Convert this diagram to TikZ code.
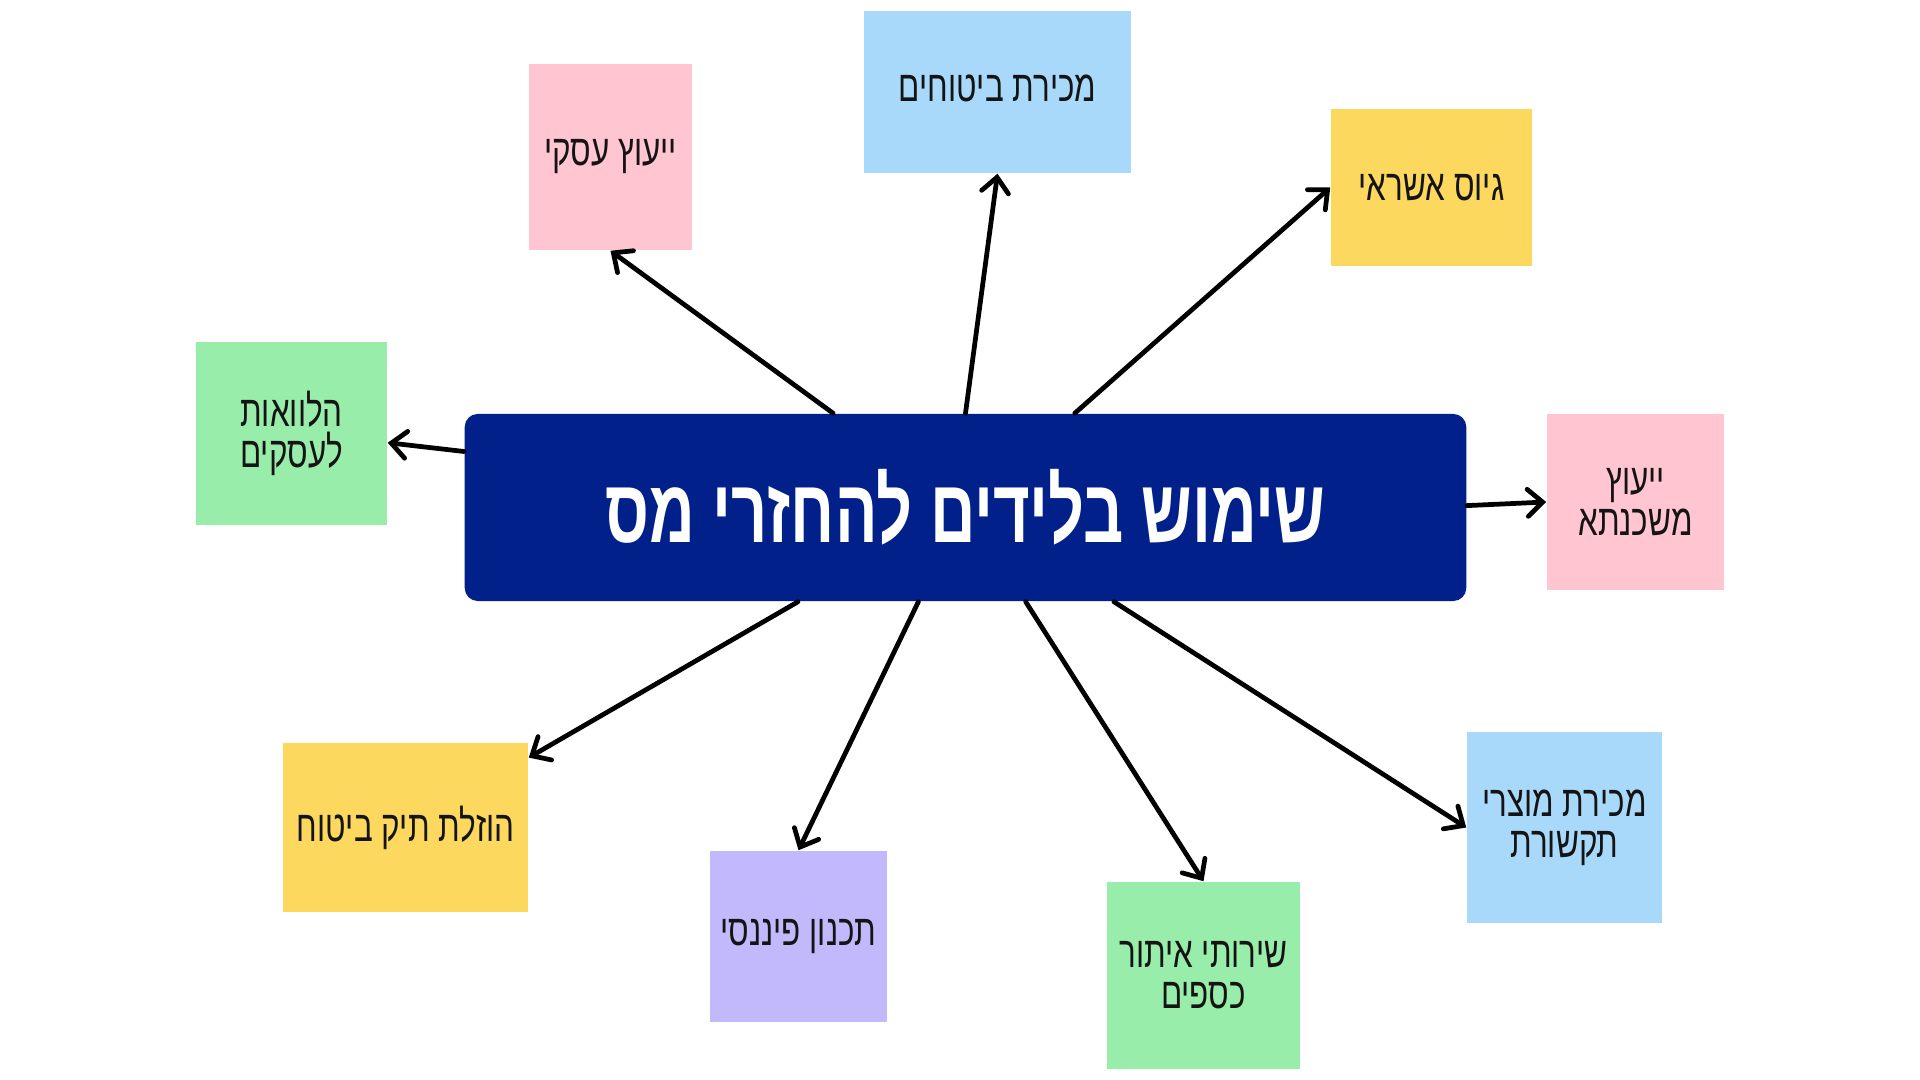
\documentclass[tikz,border=0pt]{standalone}
\usepackage{fontspec}
\usetikzlibrary{arrows.meta,calc}
\TeXXeTstate=1
\newfontfamily\heb[Script=Hebrew,FakeStretch=0.72]{Liberation Sans}
\newfontfamily\hebtitle[Script=Hebrew,FakeStretch=0.70]{Liberation Sans}
\definecolor{navy}{HTML}{02208A}
\definecolor{pinkc}{HTML}{FFC5D0}
\definecolor{bluec}{HTML}{A9D9FA}
\definecolor{yellowc}{HTML}{FDD85E}
\definecolor{greenc}{HTML}{99EDAA}
\definecolor{purplec}{HTML}{C2B9FD}
\definecolor{txt}{HTML}{141414}
\tikzset{
  box/.style={rectangle, inner sep=0pt, draw=none, text=txt, align=center,
    font=\heb\fontsize{12.4}{11.6}\selectfont},
  lbl/.style={inner sep=0pt, text=txt, align=center, font=\heb\fontsize{12.4}{11.6}\selectfont},
  arr/.style={draw=black, line width=1.35pt, line cap=round,
    -{Straight Barb[length=1.5mm,width=2.7mm,line cap=round]}},
}
\begin{document}
\begin{tikzpicture}[x=0.01cm,y=-0.01cm]
\fill[white] (0,0) rectangle (1920,1080);
\useasboundingbox (0,0) rectangle (1920,1080);
% central node
\node[rectangle, rounded corners=0.13cm, fill=navy, minimum width=10.01cm, minimum height=1.87cm,
  inner sep=0pt, text=white, font=\hebtitle\bfseries\fontsize{25.6}{28}\selectfont]
  (c) at (965.5,507.5) {\beginR שימוש בלידים להחזרי מס\endR};
% boxes
\node[box, fill=pinkc, minimum width=1.63cm, minimum height=1.86cm] (b1) at (610.5,157) {\beginR ייעוץ עסקי\endR};
\node[box, fill=bluec, minimum width=2.67cm, minimum height=1.62cm] (b2) at (997.5,92) {};
\node[lbl] (b2t) at (997.5,88) {\beginR מכירת ביטוחים\endR};
\node[box, fill=yellowc, minimum width=2.01cm, minimum height=1.57cm] (b3) at (1431.5,187.5) {\beginR גיוס אשראי\endR};
\node[box, fill=greenc, minimum width=1.91cm, minimum height=1.83cm] (b4) at (291.5,433.5) {\beginR הלוואות\endR\\\beginR לעסקים\endR};
\node[box, fill=pinkc, minimum width=1.77cm, minimum height=1.76cm] (b5) at (1635.5,502) {\beginR ייעוץ\endR\\\beginR משכנתא\endR};
\node[box, fill=yellowc, minimum width=2.45cm, minimum height=1.69cm] (b6) at (405.5,827.5) {\beginR הוזלת תיק ביטוח\endR};
\node[box, fill=purplec, minimum width=1.77cm, minimum height=1.71cm] (b7) at (798.5,936.5) {\beginR תכנון פיננסי\endR};
\node[box, fill=greenc, minimum width=1.93cm, minimum height=1.87cm] (b8) at (1203.5,975.5) {\beginR שירותי איתור\endR\\\beginR כספים\endR};
\node[box, fill=bluec, minimum width=1.95cm, minimum height=1.91cm] (b9) at (1564.5,827.5) {\beginR מכירת מוצרי\endR\\\beginR תקשורת\endR};
% arrows
\draw[arr] ($(c.north west)!0.368!(c.north east)$) -- (b1.south);
\draw[arr] ($(c.north west)!0.500!(c.north east)$) -- (b2.south);
\draw[arr] ($(c.north west)!0.609!(c.north east)$) -- (b3.west);
\draw[arr] ($(c.north west)!0.203!(c.south west)$) -- ($(b4.north east)!0.55!(b4.south east)$);
\draw[arr] ($(c.north east)!0.49!(c.south east)$) -- (b5.west);
\draw[arr] ($(c.south west)!0.333!(c.south east)$) -- ($(b6.north east)!0.09!(b6.south east)$);
\draw[arr] ($(c.south west)!0.453!(c.south east)$) -- (b7.north);
\draw[arr] ($(c.south west)!0.560!(c.south east)$) -- (b8.north);
\draw[arr] ($(c.south west)!0.648!(c.south east)$) -- (b9.west);
\end{tikzpicture}
\end{document}
